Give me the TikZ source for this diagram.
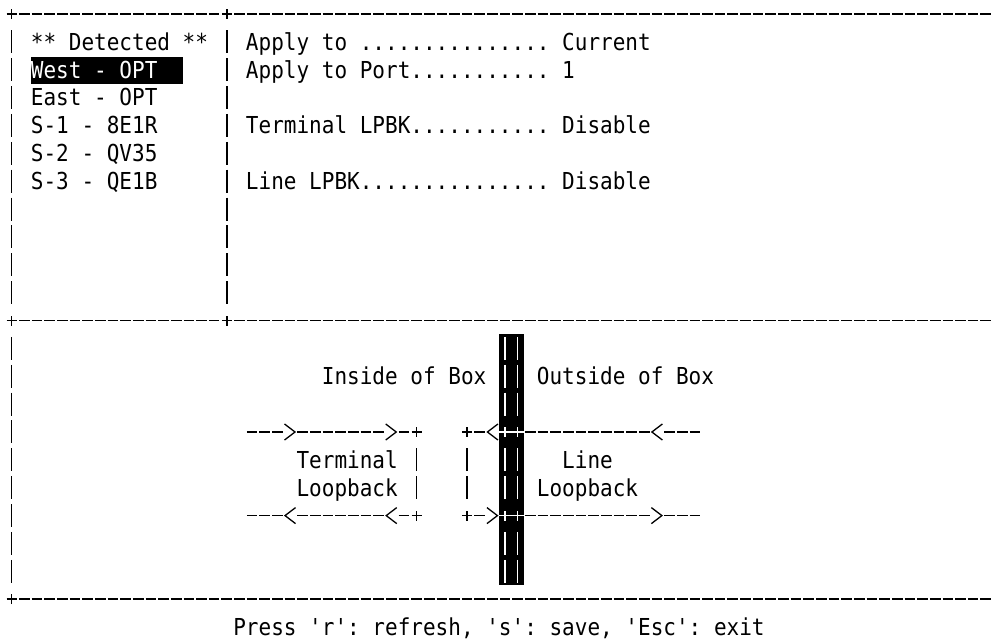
\documentclass[tikz,border=0pt]{standalone}
\usepackage{fontspec}
\setmonofont{DejaVu Sans Mono}[FakeStretch=0.9]
\usetikzlibrary{positioning}
\tikzset{
  term/.style={font=\ttfamily\fontsize{23.35pt}{27pt}\selectfont, inner sep=0pt, anchor=base west},
  rule/.style={line width=1.5pt, dash pattern=on 10.65pt off 2pt, dash phase=11.65pt},
  vbar/.style={line width=1.5pt, dash pattern=on 23pt off 4.87pt, dash phase=25.435pt},
  plus/.pic={\draw[line width=1.5pt,pic actions] (-5pt,0) -- (5pt,0) (0,-5pt) -- (0,5pt);},
  gt/.pic={\draw[line width=1.3pt,pic actions] (-5.5pt,8pt) -- (5pt,0) -- (-5.5pt,-8pt);},
  lt/.pic={\draw[line width=1.3pt,pic actions] (5.5pt,8pt) -- (-5pt,0) -- (5.5pt,-8pt);}
}
\frenchspacing

\begin{document}
\begin{tikzpicture}[x=12.65pt, y=-27.87pt]
  \fill[white] (-0.427,0) rectangle (77.992,23);
  \useasboundingbox (-0.427,0) rectangle (77.992,23);

  % frame
  \draw[rule] (1,0.5) -- (17,0.5) (18,0.5) -- (78,0.5);
  \draw[rule] (1,11.5) -- (17,11.5) (18,11.5) -- (78,11.5);
  \draw[rule] (1,21.5) -- (78,21.5);
  \pic at (0.5,0.5) {plus};
  \pic at (17.5,0.5) {plus};
  \pic at (0.5,11.5) {plus};
  \pic at (17.5,11.5) {plus};
  \pic at (0.5,21.5) {plus};
  \draw[vbar] (0.5,1) -- (0.5,11) (17.5,1) -- (17.5,11) (0.5,12) -- (0.5,21);

  % card list
  \node[term] (detected) at (2,1.8) {** Detected **};
  \fill (2,2.06) rectangle (14,3);
  \node[term,text=white] (west) at (2,2.8) {West - OPT};
  \node[term] (east) at (2,3.8) {East - OPT};
  \node[term] (s1) at (2,4.8) {S-1 - 8E1R};
  \node[term] (s2) at (2,5.8) {S-2 - QV35};
  \node[term] (s3) at (2,6.8) {S-3 - QE1B};

  % settings
  \node[term] (applyto) at (19,1.8) {Apply to ...............};
  \node[term] (applytoval) at (44,1.8) {Current};
  \node[term] (applyport) at (19,2.8) {Apply to Port...........};
  \node[term] (applyportval) at (44,2.8) {1};
  \node[term] (termlpbk) at (19,4.8) {Terminal LPBK...........};
  \node[term] (termlpbkval) at (44,4.8) {Disable};
  \node[term] (linelpbk) at (19,6.8) {Line LPBK...............};
  \node[term] (linelpbkval) at (44,6.8) {Disable};

  % box edge
  \fill (39,12) rectangle (41,21);
  \draw[vbar,white] (39.5,12) -- (39.5,15) (40.5,12) -- (40.5,15)
                    (39.5,16) -- (39.5,18) (40.5,16) -- (40.5,18)
                    (39.5,19) -- (39.5,21) (40.5,19) -- (40.5,21);
  \draw[white,line width=1.5pt] (39,15.5) -- (41,15.5) (39,18.5) -- (41,18.5);
  \pic[white] at (39.5,15.5) {plus};
  \pic[white] at (40.5,15.5) {plus};
  \pic[white] at (39.5,18.5) {plus};
  \pic[white] at (40.5,18.5) {plus};

  \node[term] (inside) at (25,13.8) {Inside of Box};
  \node[term] (outside) at (42,13.8) {Outside of Box};
  \node[term] (terml) at (23,16.8) {Terminal};
  \node[term] (termlb) at (23,17.8) {Loopback};
  \node[term] (linel) at (44,16.8) {Line};
  \node[term] (linelb) at (42,17.8) {Loopback};

  % upper path
  \draw[rule] (19,15.5) -- (22,15.5) (23,15.5) -- (30,15.5) (31,15.5) -- (32,15.5)
              (37,15.5) -- (38,15.5) (41,15.5) -- (51,15.5) (52,15.5) -- (55,15.5);
  \pic at (22.5,15.5) {gt};
  \pic at (30.5,15.5) {gt};
  \pic at (32.5,15.5) {plus};
  \pic at (36.5,15.5) {plus};
  \pic at (38.5,15.5) {lt};
  \pic at (51.5,15.5) {lt};

  % lower path
  \draw[rule] (19,18.5) -- (22,18.5) (23,18.5) -- (30,18.5) (31,18.5) -- (32,18.5)
              (37,18.5) -- (38,18.5) (41,18.5) -- (51,18.5) (52,18.5) -- (55,18.5);
  \pic at (22.5,18.5) {lt};
  \pic at (30.5,18.5) {lt};
  \pic at (32.5,18.5) {plus};
  \pic at (36.5,18.5) {plus};
  \pic at (38.5,18.5) {gt};
  \pic at (51.5,18.5) {gt};
  \draw[vbar] (32.5,16) -- (32.5,18) (36.5,16) -- (36.5,18);

  \node[term] (press) at (18,22.8) {Press 'r': refresh, 's': save, 'Esc': exit};
\end{tikzpicture}
\end{document}
